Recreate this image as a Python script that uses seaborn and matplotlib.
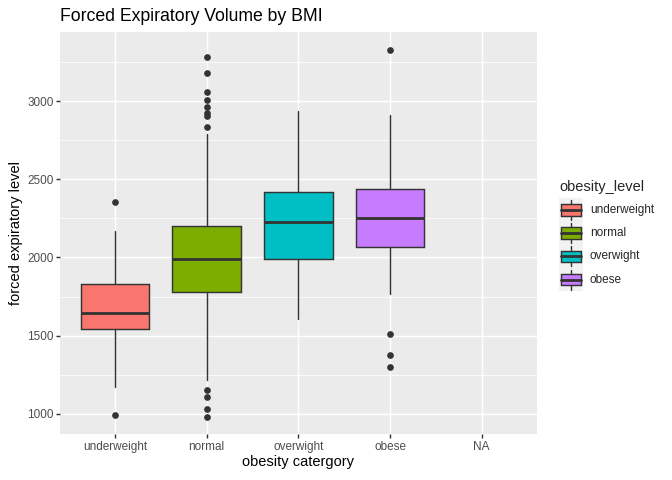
import matplotlib
matplotlib.use("Agg")
import matplotlib.pyplot as plt
import seaborn as sns
from matplotlib.patches import Rectangle
from matplotlib.ticker import FixedLocator

# ---- data ----
categories = ["underweight", "normal", "overwight", "obese", "NA"]
box_levels = ["underweight", "normal", "overwight", "obese"]
colors = ["#F8766D", "#7CAE00", "#00BFC4", "#C77CFF"]
whisker_low = [1170, 1213, 1605, 1764]
q1 = [1539, 1780, 1990, 2067]
median = [1647, 1988, 2224, 2254]
q3 = [1831, 2199, 2419, 2438]
whisker_high = [2171, 2791, 2938, 2912]
outliers = [
    [2355, 994],
    [3281, 3179, 3057, 3006, 2962, 2923, 2906, 2834, 1149, 1106, 1032, 981],
    [],
    [3326, 1513, 1377, 1300],
]
y_ticks = [1000, 1500, 2000, 2500, 3000]
y_minor = [1250, 1750, 2250, 2750, 3250]

sns.set_theme(style="darkgrid", rc={
    "axes.facecolor": "#EBEBEB",
    "grid.color": "white",
    "axes.edgecolor": "#EBEBEB",
})
plt.rcParams["font.family"] = ["Liberation Sans", "DejaVu Sans"]

W, H = 672, 480
fig = plt.figure(figsize=(7, 5), dpi=96)
L, R, T, B = 60, 536.7, 32, 434.3
ax = fig.add_axes([L / W, 1 - B / H, (R - L) / W, (B - T) / H])

stats = []
for i in range(len(box_levels)):
    stats.append(dict(med=median[i], q1=q1[i], q3=q3[i],
                      whislo=whisker_low[i], whishi=whisker_high[i],
                      fliers=outliers[i], label=box_levels[i]))

bp = ax.bxp(stats, positions=range(1, len(box_levels) + 1), widths=0.75,
            patch_artist=True, showcaps=False,
            boxprops=dict(edgecolor="#333333", linewidth=1.07),
            whiskerprops=dict(color="#333333", linewidth=1.07),
            medianprops=dict(color="#333333", linewidth=2.1),
            flierprops=dict(marker="o", markerfacecolor="#333333",
                            markeredgecolor="#333333", markersize=4),
            zorder=3)
for patch, c in zip(bp["boxes"], colors):
    patch.set_facecolor(c)

ax.set_xlim(0.4, 5.6)
ax.set_ylim(868, 3443)
ax.set_xticks(range(1, len(categories) + 1))
ax.set_xticklabels(categories)
ax.set_yticks(y_ticks)
ax.yaxis.set_minor_locator(FixedLocator(y_minor))
ax.grid(True, which="major", color="white", linewidth=1.07)
ax.grid(True, which="minor", axis="y", color="white", linewidth=0.53)
ax.set_axisbelow(True)
for s in ax.spines.values():
    s.set_visible(False)
ax.tick_params(axis="both", which="major", length=2.75, width=1.07,
               color="#333333", labelsize=8.8, labelcolor="#4D4D4D", pad=2)
ax.tick_params(axis="both", which="minor", length=0)
ax.tick_params(axis="x", bottom=True)
ax.tick_params(axis="y", left=True)

ax.set_xlabel("obesity catergory", fontsize=11, color="black", labelpad=2)
ax.set_ylabel("forced expiratory level", fontsize=11, color="black", labelpad=3)
fig.text(L / W, 1 - 16.5 / H, "Forced Expiratory Volume by BMI",
         fontsize=13.2, ha="left", va="center", color="black")

# ---- legend ----
lax = fig.add_axes([0, 0, 1, 1], facecolor="none")
lax.set_xlim(0, W)
lax.set_ylim(H, 0)
lax.axis("off")
lax.text(559, 187, "obesity_level", fontsize=11, ha="left", va="center")
key_h = 23.2
key_top = 198.4
kx0, kx1 = 558.5, 582.5
bx0, bx1 = 561, 580.5
lax.add_patch(Rectangle((kx0, key_top), kx1 - kx0, key_h * 4,
                        facecolor="#F2F2F2", edgecolor="none"))
for i, (lab, c) in enumerate(zip(box_levels, colors)):
    cy = key_top + key_h * (i + 0.5)
    xm = (bx0 + bx1) / 2
    lax.plot([xm, xm], [cy - 10, cy + 10], color="#333333", lw=1.07)
    lax.add_patch(Rectangle((bx0, cy - 5.8), bx1 - bx0, 11.6,
                            facecolor=c, edgecolor="#333333", lw=1.07, zorder=3))
    lax.plot([bx0, bx1], [cy, cy], color="#333333", lw=2.1, zorder=4)
    lax.text(590, cy, lab, fontsize=8.8, ha="left", va="center")

fig.savefig("out.png", dpi=96)
